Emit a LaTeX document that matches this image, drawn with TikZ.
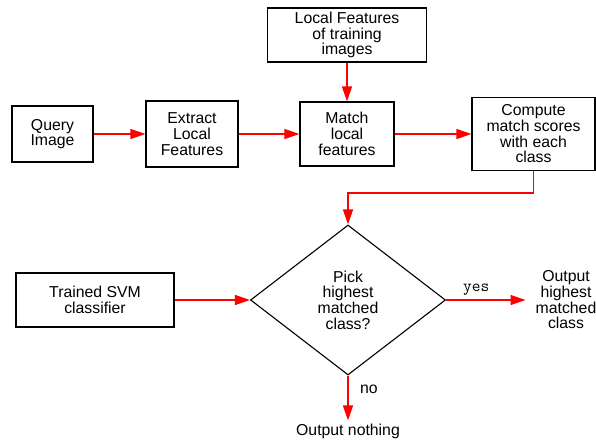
\documentclass[tikz,border=0pt]{standalone}
\usepackage{fontspec}
\setmainfont{Liberation Sans}
\usepackage{tikz}
\usetikzlibrary{arrows.meta}
\usetikzlibrary{positioning}
\usetikzlibrary{shapes}

\begin{document}
\begin{tikzpicture}[>={Triangle[length=15pt,width=10pt]},
  block/.style={draw,line width=1.2pt,rectangle,align=center,inner sep=2pt},
  decision/.style={draw,line width=1.1pt,diamond,align=center,inner sep=0pt},
  plain/.style={align=center},
  flow/.style={->,red,line width=1.4pt},
  every node/.style={font=\fontsize{15.8}{15.7}\selectfont}]

  \useasboundingbox (0,0) rectangle (596pt,-442pt);

  \node[block,minimum width=81pt,minimum height=56pt] (q0) at (52.5pt,-134pt) {Query\\Image};
  \node[block,minimum width=92pt,minimum height=66pt,node distance=139.5pt,right of=q0] (q1) {Extract\\Local\\Features};
  \node[block,minimum width=94pt,minimum height=64pt,node distance=155pt,right of=q1] (q2) {Match\\local\\features};
  \node[block,minimum width=159pt,minimum height=54pt,node distance=99pt,above of=q2] (train) {Local Features\\of training\\images};
  \node[block,minimum width=123pt,minimum height=73pt,node distance=186.5pt,right of=q2] (q3) {Compute\\match scores\\with each\\class};

  \node[block,minimum width=158pt,minimum height=54pt] (svm) at (95pt,-300pt) {Trained SVM\\classifier};
  \node[decision,minimum width=195pt,minimum height=150pt,node distance=253pt,right of=svm] (dec) {Pick\\highest\\matched\\class?};
  \node[plain,inner sep=10pt,node distance=218pt,right of=dec] (out) {Output\\highest\\matched\\class};
  \node[plain,inner sep=3pt,node distance=131pt,below of=dec] (none) {Output nothing};

  \path[flow] (q0) edge (q1)
		(q1) edge (q2)
		(train) edge (q2)
		(q2) edge (q3)
		(svm) edge (dec);
  \draw[flow] (q3.south) -- ++(0,-22pt) -| (dec.north);
  \draw[flow] (dec.east) -- node[above=1pt,pos=0.38,text=black,font=\fontsize{17}{17}\ttfamily] {yes} (dec.east -| out.west);
  \draw[flow] (dec.south) -- node[right=8pt,pos=0.3,text=black] {no} (none);

\end{tikzpicture}
\end{document}
